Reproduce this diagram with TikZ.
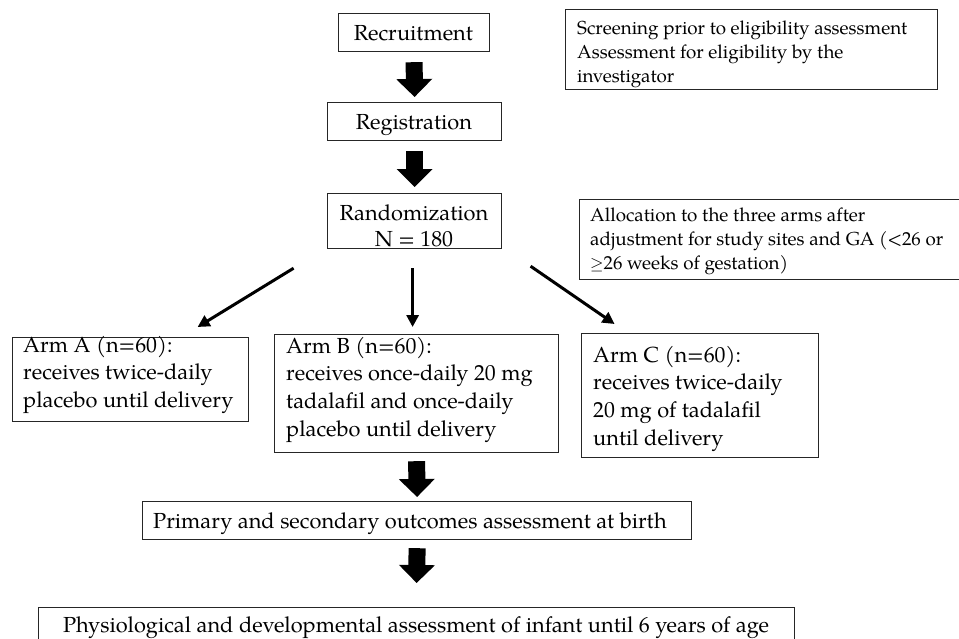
\documentclass[tikz,border=0pt]{standalone}
\usepackage{fontspec}
\setmainfont{TeX Gyre Pagella}
\usetikzlibrary{arrows.meta}
\newcommand{\mainfs}{\fontsize{21.8pt}{27.6pt}\selectfont}
\newcommand{\randfs}{\fontsize{21.8pt}{26.7pt}\selectfont}
\newcommand{\sidefs}{\fontsize{18.8pt}{24pt}\selectfont}
\begin{document}
\begin{tikzpicture}[x=1pt,y=-1pt,
  box/.style 2 args={draw=black!85, line width=1.2pt, inner sep=0pt, anchor=north west, minimum width=#1, minimum height=#2},
  txt/.style={inner sep=0pt, anchor=north west, align=left, font=\mainfs},
  stxt/.style={inner sep=0pt, anchor=north west, align=left, font=\sidefs},
  ctxt/.style={inner sep=0pt, anchor=base, font=\mainfs},
  blockarrow/.style={line width=17pt, -{Triangle[width=35pt,length=18pt]}},
  thinarrow/.style={line width=3pt, -{Triangle[width=12pt,length=12pt]}},
]
\useasboundingbox (0,0) rectangle (959,638);
\fill[white] (0,0) rectangle (959,638);
\clip (0,0) rectangle (959,638);

% main column boxes
\node[box={151pt}{38pt}] (rec) at (338,13) {};
\node[ctxt] (rect) at (413.5,40) {Recruitment};
\node[box={174pt}{38pt}] (reg) at (327,102) {};
\node[ctxt] (regt) at (414,129) {Registration};
\node[box={174pt}{55pt}] (rand) at (327,193) {};
\node[txt, align=center, anchor=north, font=\randfs] (randt) at (414,203) {\rule{0pt}{17pt}Randomization\\N = 180};

% side notes
\node[box={372pt}{80pt}] (scr) at (565,9) {};
\node[stxt] (scrt) at (577,19.5) {\rule{0pt}{14.5pt}Screening prior to eligibility assessment\\Assessment for eligibility by the\\investigator};
\node[box={400pt}{80pt}] (alloc) at (579,199) {};
\node[stxt] (alloct) at (590,206.5) {\rule{0pt}{14.5pt}Allocation to the three arms after\\adjustment for study sites and GA (<26 or\\$\geq$26 weeks of gestation)};

% arms
\node[box={236pt}{84pt}] (armA) at (12,337) {};
\node[txt] (armAt) at (23,335) {\rule{0pt}{17pt}Arm A (n=60):\\receives twice-daily\\placebo until delivery};
\node[box={284pt}{118pt}] (armB) at (274,334) {};
\node[txt] (armBt) at (286,336) {\rule{0pt}{17pt}Arm B (n=60):\\receives once-daily 20 mg\\tadalafil and once-daily\\placebo until delivery};
\node[box={237pt}{124pt}] (armC) at (581,333) {};
\node[txt] (armCt) at (593,345) {\rule{0pt}{17pt}Arm C (n=60):\\receives twice-daily\\20 mg of tadalafil\\until delivery};

% outcomes
\node[box={549pt}{38pt}] (prim) at (142,501) {};
\node[ctxt, anchor=base west] (primt) at (153,528) {Primary and secondary outcomes assessment at birth};
\node[box={756pt}{40pt}] (phys) at (38,607) {};
\node[ctxt] (physt) at (416,632) {Physiological and developmental assessment of infant until 6 years of age};

% block arrows
\draw[blockarrow] ([yshift=-10pt]rec.south) -- ([yshift=5pt]reg.north);
\draw[blockarrow] ([yshift=-10pt]reg.south) -- ([yshift=6pt]rand.north);
\draw[blockarrow] ([yshift=-8pt]armB.south) -- ([yshift=4pt]prim.north);
\draw[blockarrow] ([yshift=-8pt]prim.south) -- ([yshift=24pt]phys.north);

% thin arrows
\draw[thinarrow] ([xshift=-121pt,yshift=-19pt]rand.south) -- ([xshift=67pt,yshift=10pt]armA.north);
\draw[thinarrow] ([xshift=-2pt,yshift=-19pt]rand.south) -- ([xshift=-4pt,yshift=7pt]armB.north);
\draw[thinarrow] ([xshift=116pt,yshift=-17pt]rand.south) -- ([xshift=-85.5pt,yshift=9pt]armC.north);
\end{tikzpicture}
\end{document}
